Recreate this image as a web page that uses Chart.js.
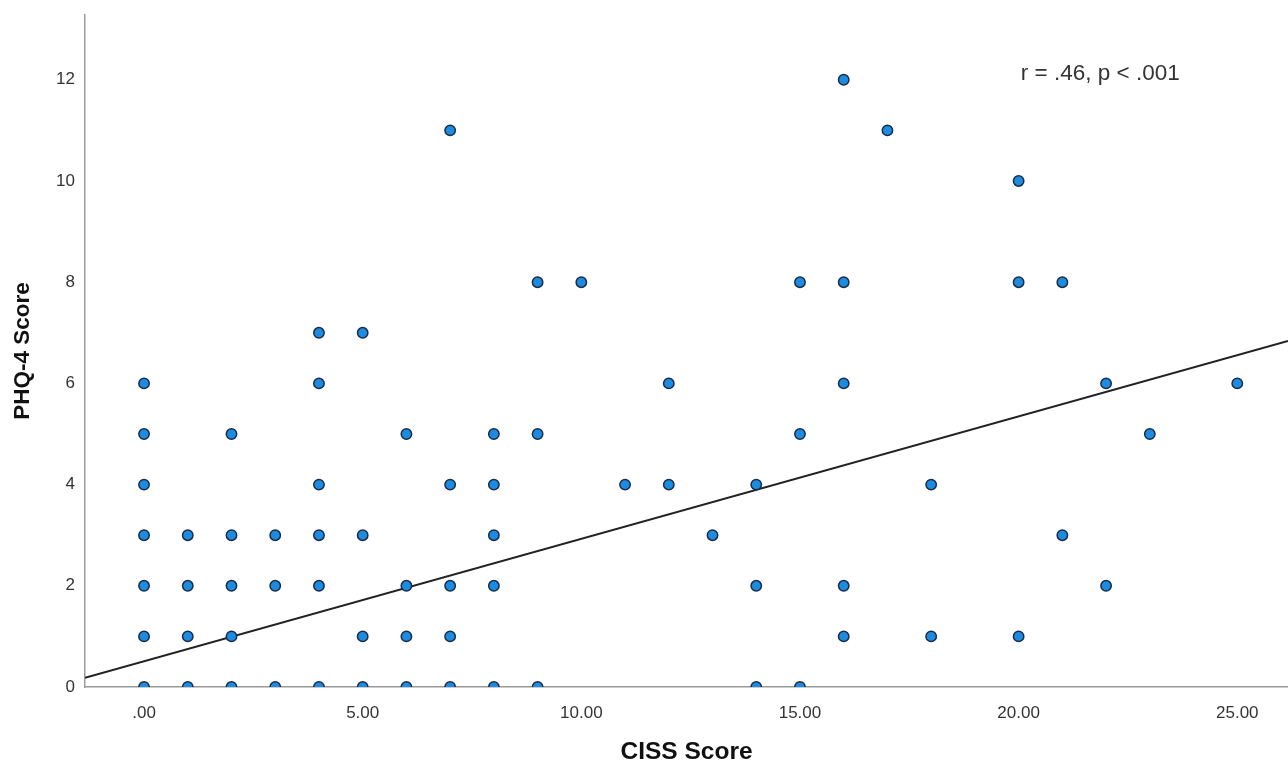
<!DOCTYPE html>
<html>
<head>
<meta charset="utf-8">
<script src="https://cdn.jsdelivr.net/npm/chart.js@4.4.1/dist/chart.umd.min.js"></script>
<style>
  html, body { margin: 0; padding: 0; background: #fff; overflow: hidden; }
  canvas { display: block; }
</style>
</head>
<body>
<canvas id="scatterChart" width="1288" height="763"></canvas>
<script>
// ข้อมูลจุด (CISS Score, PHQ-4 Score)
const cissScores = [
    0, 0, 0, 0, 0, 0, 0,
    1, 1, 1, 1,
    2, 2, 2, 2, 2,
    3, 3, 3,
    4, 4, 4, 4, 4, 4,
    5, 5, 5, 5,
    6, 6, 6, 6,
    7, 7, 7, 7, 7,
    8, 8, 8, 8, 8,
    9, 9, 9,
    10,
    11,
    12, 12,
    13,
    14, 14, 14,
    15, 15, 15,
    16, 16, 16, 16, 16,
    17,
    18, 18,
    20, 20, 20,
    21, 21,
    22, 22,
    23,
    25
];
const phqScores = [
    0, 1, 2, 3, 4, 5, 6,
    0, 1, 2, 3,
    0, 1, 2, 3, 5,
    0, 2, 3,
    0, 2, 3, 4, 6, 7,
    0, 1, 3, 7,
    0, 1, 2, 5,
    0, 1, 2, 4, 11,
    0, 2, 3, 4, 5,
    0, 5, 8,
    8,
    4,
    4, 6,
    3,
    0, 2, 4,
    0, 5, 8,
    1, 2, 6, 8, 12,
    11,
    1, 4,
    1, 8, 10,
    3, 8,
    2, 6,
    5,
    6
];

// เส้นถดถอย (ปลายสองด้านตามที่อ่านจากภาพ)
const fitX = [-1.35, 26.16];
const fitY = [0.18, 6.84];

// ป้ายแกน
const xTickValues = [0, 5, 10, 15, 20, 25];
const xTickLabels = ['.00', '5.00', '10.00', '15.00', '20.00', '25.00'];
const yTickValues = [0, 2, 4, 6, 8, 10, 12];
const statText = 'r = .46, p < .001';

const FONT = '"Liberation Sans", Arial, sans-serif';

const points = cissScores.map((x, i) => ({ x: x, y: phqScores[i] }));
const fitLine = fitX.map((x, i) => ({ x: x, y: fitY[i] }));

// วาดข้อความค่าสหสัมพันธ์
const statLabel = {
    id: 'statLabel',
    afterDraw(chart) {
        const ctx = chart.ctx;
        const xs = chart.scales.x;
        const ys = chart.scales.y;
        ctx.save();
        ctx.font = '22.5px ' + FONT;
        ctx.fillStyle = '#333';
        ctx.textAlign = 'left';
        ctx.textBaseline = 'middle';
        ctx.fillText(statText, xs.getPixelForValue(20.05), ys.getPixelForValue(12.12));
        ctx.restore();
    }
};

new Chart(document.getElementById('scatterChart'), {
    type: 'scatter',
    data: {
        datasets: [
            {
                label: 'fit',
                type: 'line',
                data: fitLine,
                borderColor: '#222',
                borderWidth: 2,
                pointRadius: 0,
                fill: false,
                clip: 0,
                order: 2
            },
            {
                label: 'scores',
                data: points,
                backgroundColor: '#1c8ce3',
                borderColor: '#1b2c44',
                borderWidth: 1.5,
                pointRadius: 5.2,
                clip: 0,
                order: 1
            }
        ]
    },
    options: {
        responsive: false,
        animation: false,
        layout: { autoPadding: false, padding: { top: 15, right: 0, left: 0, bottom: 0 } },
        plugins: {
            legend: { display: false },
            tooltip: { enabled: false }
        },
        scales: {
            x: {
                type: 'linear',
                min: -1.35,
                max: 26.16,
                grid: { display: false },
                border: { display: true, color: '#9a9a9a', width: 1.5 },
                afterBuildTicks: axis => { axis.ticks = xTickValues.map(v => ({ value: v })); },
                afterFit: axis => {
                    axis.height = 76;
                    axis.paddingLeft = 0;
                    axis.paddingRight = 0;
                },
                ticks: {
                    color: '#333',
                    font: { family: FONT, size: 17 },
                    padding: 8,
                    maxRotation: 0,
                    autoSkip: false,
                    callback: (v) => xTickLabels[xTickValues.indexOf(v)]
                },
                title: {
                    display: true,
                    text: 'CISS Score',
                    color: '#111',
                    font: { family: FONT, size: 24.5, weight: 'bold', lineHeight: 1 },
                    padding: { top: 0, bottom: -1 }
                }
            },
            y: {
                type: 'linear',
                min: 0,
                max: 13.28,
                grid: { display: false },
                border: { display: true, color: '#9a9a9a', width: 1.5 },
                afterBuildTicks: axis => { axis.ticks = yTickValues.map(v => ({ value: v })); },
                afterFit: axis => {
                    axis.width = 85;
                    axis.paddingTop = 0;
                    axis.paddingBottom = 0;
                },
                ticks: {
                    color: '#333',
                    font: { family: FONT, size: 17 },
                    padding: 2
                },
                title: {
                    display: true,
                    text: 'PHQ-4 Score',
                    color: '#111',
                    font: { family: FONT, size: 22.5, weight: 'bold', lineHeight: 1 },
                    padding: { top: 12, bottom: 0 }
                }
            }
        }
    },
    plugins: [statLabel]
});
</script>
</body>
</html>
